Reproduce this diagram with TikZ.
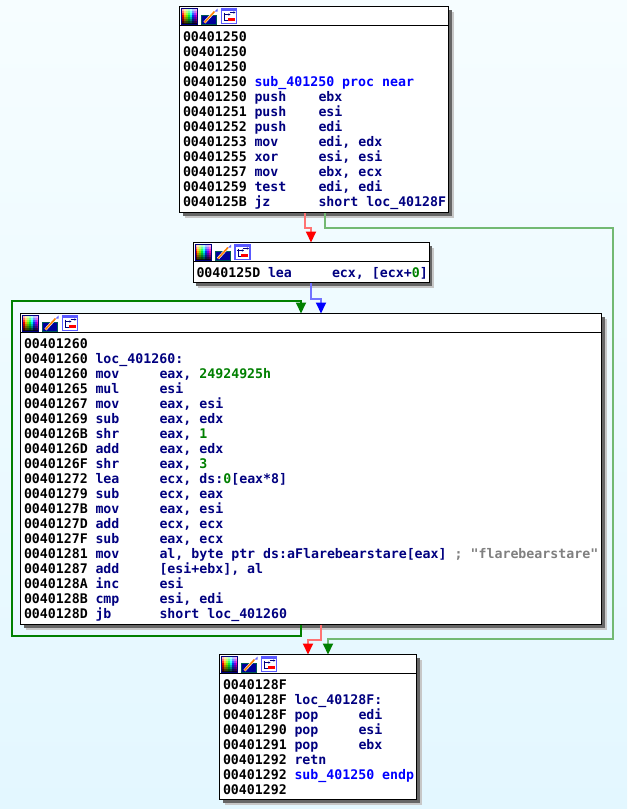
\documentclass[tikz,border=0pt]{standalone}
\usepackage{fontspec}
\setmonofont{DejaVu Sans Mono}
\usetikzlibrary{positioning,arrows.meta,shadows}
\definecolor{mnem}{HTML}{000080}
\definecolor{imm}{HTML}{008000}
\definecolor{lab}{HTML}{0000FF}
\definecolor{cmt}{HTML}{808080}
\definecolor{bgtop}{HTML}{F6FDFF}
\definecolor{bgbot}{HTML}{E3F7FF}
\newcommand{\codefont}{\ttfamily\bfseries\fontsize{13.25}{15}\selectfont\lineskiplimit=-20pt\relax}
\newcommand{\codestrut}{\spaceskip=7.98pt\relax\xspaceskip=7.98pt\relax\rule[-2pt]{0pt}{15pt}}
\newcommand{\asm}[3]{\mbox{\codestrut\makebox[71.5pt][l]{\color{black}#1}\makebox[64pt][l]{\color{mnem}#2}{\color{mnem}#3}}}
\newcommand{\lbl}[3][lab]{\mbox{\codestrut\makebox[71.5pt][l]{\color{black}#2}{\color{#1}#3}}}
\newcommand{\imm}[1]{{\color{imm}#1}}

\begin{document}
\begin{tikzpicture}[
  x=1pt,y=-1pt,
  font=\codefont,
  blockshadow/.style={
    drop shadow={shadow xshift=5pt,shadow yshift=-5pt,fill=black!22,opacity=1},
    drop shadow={shadow xshift=3pt,shadow yshift=-3pt,fill=black!60,opacity=1}},
  hdr/.style ={draw=black,fill=white,line width=1pt,outer sep=0pt,inner sep=0pt,
                minimum height=19pt,minimum width=#1,blockshadow},
  body/.style={draw=black,fill=white,line width=1pt,outer sep=0pt,inner xsep=3.5pt,
                inner ysep=3pt,text width=#1-7pt,align=left,blockshadow},
  edge/.style={line width=2pt},
  redge/.style ={edge,draw=red!55,-{Triangle[color=red,length=11pt,width=10pt]}},
  gedge/.style ={edge,draw=imm!55,-{Triangle[color=imm,length=11pt,width=10pt]}},
  bedge/.style ={edge,draw=lab!55,-{Triangle[color=lab,length=11pt,width=10pt]}},
  loopedge/.style={edge,draw=imm,-{Triangle[color=imm,length=11pt,width=10pt]}},
  hdr icons/.pic={
    % colour table
    \foreach \i in {0,...,7}{
      \foreach \j in {0,...,7}{
        \pgfmathsetmacro{\hh}{\i/8}
        \pgfmathsetmacro{\ss}{min(1,0.3+\j*0.25)}
        \pgfmathsetmacro{\bb}{min(1,1.5-\j*0.2)}
        \definecolor{cellc}{hsb}{\hh,\ss,\bb}
        \fill[cellc] (2+\i*2,2+\j*2) rectangle +(2.2,2.2);
      }
    }
    \draw[mnem,line width=1pt] (2,2) rectangle (18,18);
    % pencil
    \fill[mnem!80!blue,draw=teal!70!black,line width=1pt] (22,9) rectangle (37,18);
    \draw[white,line width=2.6pt] (25,16) -- (35,5);
    \draw[orange,line width=1.6pt] (25,16) -- (35,5);
    \fill[lab!60] (35,5) -- (38,2) -- (38,5) -- cycle;
    % graph
    \draw[lab!65!white,line width=1.2pt,fill=white] (42,2) rectangle (57,17);
    \fill[lab!65!white] (42,2) rectangle (57,4);
    \draw[mnem,line width=.7pt,-{Stealth[length=2pt,width=2pt]}] (44,8) -- (51,8);
    \draw[mnem,line width=.7pt,-{Stealth[length=2pt,width=2pt]}] (50,6) -- (56,6);
    \draw[mnem,line width=.7pt] (45,6) -- (45,14) -- (48,14);
    \fill[red] (48,11) rectangle (55,14);
  }]

\useasboundingbox (0,0) rectangle (627,809);
\shade[top color=bgtop,bottom color=bgbot] (0,0) rectangle (627,809);

% --- entry block ---
\node[hdr=269pt,anchor=north west] (hdrentry) at (179.5,6.5) {};
\node[body=269pt,below=0pt of hdrentry] (entry) {%
  \lbl{00401250}{}\\
  \lbl{00401250}{}\\
  \lbl{00401250}{}\\
  \lbl{00401250}{sub\_401250 proc near}\\
  \asm{00401250}{push}{ebx}\\
  \asm{00401251}{push}{esi}\\
  \asm{00401252}{push}{edi}\\
  \asm{00401253}{mov}{edi, edx}\\
  \asm{00401255}{xor}{esi, esi}\\
  \asm{00401257}{mov}{ebx, ecx}\\
  \asm{00401259}{test}{edi, edi}\\
  \asm{0040125B}{jz}{short loc\_40128F}};

% --- fall through block ---
\node[hdr=236pt,anchor=north west] (hdrlea) at (193,242.5) {};
\node[body=236pt,below=0pt of hdrlea] (lea) {%
  \asm{0040125D}{lea}{ecx, [ecx+\imm{0}]}};

% --- loop block ---
\node[hdr=581pt,anchor=north west] (hdrloop) at (20.5,313.5) {};
\node[body=581pt,below=0pt of hdrloop] (loop) {%
  \lbl{00401260}{}\\
  \lbl[mnem]{00401260}{loc\_401260:}\\
  \asm{00401260}{mov}{eax, \imm{24924925h}}\\
  \asm{00401265}{mul}{esi}\\
  \asm{00401267}{mov}{eax, esi}\\
  \asm{00401269}{sub}{eax, edx}\\
  \asm{0040126B}{shr}{eax, \imm{1}}\\
  \asm{0040126D}{add}{eax, edx}\\
  \asm{0040126F}{shr}{eax, \imm{3}}\\
  \asm{00401272}{lea}{ecx, ds:\imm{0}[eax*8]}\\
  \asm{00401279}{sub}{ecx, eax}\\
  \asm{0040127B}{mov}{eax, esi}\\
  \asm{0040127D}{add}{ecx, ecx}\\
  \asm{0040127F}{sub}{eax, ecx}\\
  \asm{00401281}{mov}{al, byte ptr ds:aFlarebearstare[eax] {\color{cmt}; "flarebearstare"}}\\
  \asm{00401287}{add}{[esi+ebx], al}\\
  \asm{0040128A}{inc}{esi}\\
  \asm{0040128B}{cmp}{esi, edi}\\
  \asm{0040128D}{jb}{short loc\_401260}};

% --- exit block ---
\node[hdr=197pt,anchor=north west] (hdrexit) at (219.5,654.5) {};
\node[body=197pt,below=0pt of hdrexit] (exit) {%
  \lbl{0040128F}{}\\
  \lbl[mnem]{0040128F}{loc\_40128F:}\\
  \asm{0040128F}{pop}{edi}\\
  \asm{00401290}{pop}{esi}\\
  \asm{00401291}{pop}{ebx}\\
  \asm{00401292}{retn}{}\\
  \lbl{00401292}{sub\_401250 endp}\\
  \lbl{00401292}{}};

% --- header icons ---
\pic at (hdrentry.north west) {hdr icons};
\pic at (hdrlea.north west) {hdr icons};
\pic at (hdrloop.north west) {hdr icons};
\pic at (hdrexit.north west) {hdr icons};

% --- connectors ---
\draw[redge] ([xshift=125pt]entry.south west) -- ++(0,15) -| ([xshift=118pt]hdrlea.north west);
\draw[gedge] ([xshift=145pt]entry.south west) -- ++(0,15) -- ++(288pt,0) |- ([xshift=108.5pt,yshift=15.5pt]hdrexit.north west) -- ([xshift=108.5pt]hdrexit.north west);
\draw[bedge] ([xshift=118pt]lea.south west) -- ++(0,16) -| ([xshift=300.5pt]hdrloop.north west);
\draw[loopedge] ([xshift=280.5pt]loop.south west) -- ++(0,11) -| ([xshift=-8.5pt,yshift=12.5pt]hdrloop.north west) -- ([xshift=280.5pt,yshift=12.5pt]hdrloop.north west) -- ([xshift=280.5pt]hdrloop.north west);
\draw[redge] ([xshift=300.5pt]loop.south west) -- ++(0,15.5) -| ([xshift=88.5pt]hdrexit.north west);

\end{tikzpicture}
\end{document}
